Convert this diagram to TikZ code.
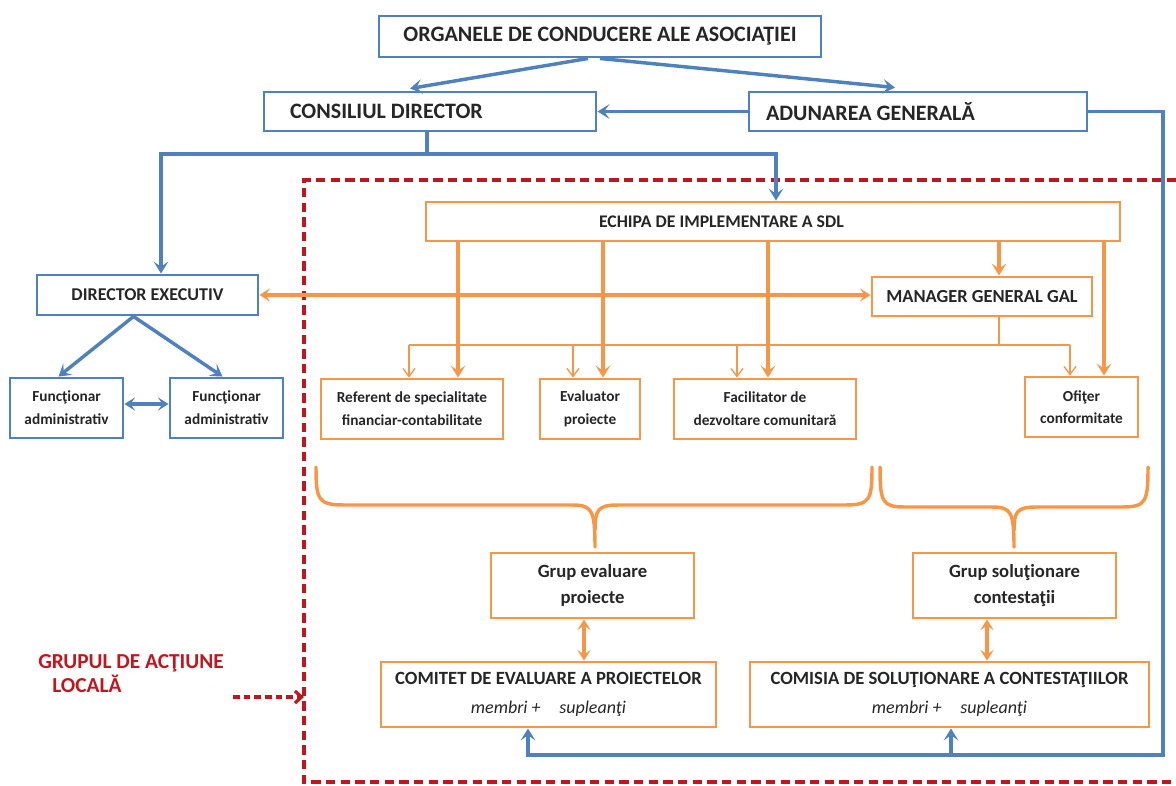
\documentclass[tikz,border=0pt]{standalone}
\usepackage{fontspec}
\setmainfont{Carlito}
\usetikzlibrary{arrows.meta,calc}
\definecolor{cblue}{HTML}{4F81BD}
\definecolor{corange}{HTML}{F79646}
\definecolor{cred}{HTML}{C0161D}
\definecolor{ctext}{HTML}{262626}
\newcommand{\mkbox}[6]{\node[#1, minimum width={(#4-#2)*0.75pt}, minimum height={(#5-#3)*0.75pt}] (#6) at ({(#2+#4)/2},{(#3+#5)/2})}
\newcommand{\fs}[2]{\fontsize{#1}{#2}\selectfont}
\newcommand{\membfont}{\mdseries\itshape\fs{13.5}{22}}
\begin{document}
\begin{tikzpicture}[x=0.75pt,y=-0.75pt,
  bbox/.style={draw=cblue, line width=2.2pt, fill=white, inner sep=0pt, text=ctext, font=\bfseries},
  obox/.style={draw=corange, line width=2.2pt, fill=white, inner sep=0pt, text=ctext, font=\bfseries, align=center},
  bline/.style={draw=cblue, line width=2.6pt},
  barrow/.style={bline, -{Stealth[length=9pt,width=11pt,inset=4pt]}},
  bdouble/.style={bline, {Stealth[length=8pt,width=10pt,inset=3.5pt]}-{Stealth[length=8pt,width=10pt,inset=3.5pt]}},
  oline/.style={draw=corange, line width=2.6pt},
  oarrow/.style={oline, -{Stealth[length=9pt,width=11pt,inset=4pt]}},
  odouble/.style={oline, {Stealth[length=8pt,width=10pt,inset=3.5pt]}-{Stealth[length=8pt,width=10pt,inset=3.5pt]}},
  othin/.style={draw=corange, line width=1pt},
  othinarrow/.style={othin, -{Straight Barb[length=6pt,width=9pt]}},
  reddash/.style={draw=cred, line width=2.6pt, dash pattern=on 7pt off 4pt},
  redlabel/.style={text=cred, font=\bfseries\fs{16}{18}, align=left, inner sep=0pt},
  small/.style={font=\bfseries\fs{11.5}{17}},
  grp/.style={font=\bfseries\fs{14}{19.5}},
  com/.style={font=\bfseries\fs{14}{22}}
]
\useasboundingbox (0,0) rectangle (1176,785);

% frame of the local action group
\coordinate (fr1) at (1176,180);
\coordinate (fr2) at (304,180);
\coordinate (fr3) at (304,782);
\coordinate (fr4) at (1176,782);
\draw[reddash] (fr1) -- (fr2) -- (fr3) -- (fr4);

% blue boxes
\mkbox{bbox, font=\bfseries\fs{16.5}{18}}{379}{16}{821}{57}{org} {ORGANELE DE CONDUCERE ALE ASOCIAŢIEI};
\mkbox{bbox, font=\bfseries\fs{16.5}{18}, text width={280*0.75pt}, align=flush left}{264}{92}{596}{131}{cd} {CONSILIUL DIRECTOR};
\mkbox{bbox, font=\bfseries\fs{16.5}{18}, text width={304*0.75pt}, align=flush left}{749}{92}{1087}{131}{ag} {ADUNAREA GENERALĂ};
\mkbox{bbox, font=\bfseries\fs{13.5}{15}}{37}{275}{258}{315}{de} {DIRECTOR EXECUTIV};
\mkbox{bbox, small, align=center}{10}{378}{123}{438}{f1} {Funcţionar\\administrativ};
\mkbox{bbox, small, align=center}{170}{378}{283}{438}{f2} {Funcţionar\\administrativ};

% orange boxes
\mkbox{obox, font=\bfseries\fs{13.3}{15}, text width={348*0.75pt}, align=flush left}{426}{202}{1120}{241}{ech} {ECHIPA DE IMPLEMENTARE A SDL};
\mkbox{obox, font=\bfseries\fs{13.8}{15}}{872}{277}{1092}{316}{mg} {MANAGER GENERAL GAL};
\mkbox{obox, small}{321}{379}{503}{439}{ref} {Referent de specialitate\\financiar-contabilitate};
\mkbox{obox, small}{540}{379}{640}{439}{ev} {Evaluator\\proiecte};
\mkbox{obox, small}{674}{379}{856}{439}{fac} {Facilitator de\\dezvoltare comunitară};
\mkbox{obox, small}{1025}{377}{1138}{437}{of} {Ofiţer\\conformitate};
\mkbox{obox, grp}{491}{553}{694}{618}{ge} {Grup evaluare\\proiecte};
\mkbox{obox, grp}{913}{553}{1116}{618}{gs} {Grup soluţionare\\contestaţii};
\mkbox{obox, com}{381}{662}{716}{727}{cet} {COMITET DE EVALUARE A PROIECTELOR\\{\membfont membri +\hspace{14pt}supleanţi}};
\mkbox{obox, com}{750}{662}{1149}{727}{cs} {COMISIA DE SOLUŢIONARE A CONTESTAŢIILOR\\{\membfont membri +\hspace{14pt}supleanţi}};

% red label
\node[redlabel, anchor=west] (gal) at (38,674) {GRUPUL DE ACŢIUNE\\\hspace*{10.5pt}LOCALĂ};
\coordinate (gals) at (233,697);
\draw[draw=cred, line width=2.4pt, dash pattern=on 5pt off 3pt, -{Straight Barb[length=5pt,width=9pt]}] (gals) -- (gals -| fr2);

% blue connectors
\draw[barrow] ($(org.south)+(-12,0)$) -- ($(cd.north)+(-20,-2)$);
\draw[barrow] ($(org.south)+(0,0)$) -- ($(ag.north)+(-23,-3)$);
\draw[barrow] (ag.west) -- (cd.east);
\coordinate (jcd) at (427,154);
\coordinate (jl) at (161,154);
\coordinate (jr) at (776,154);
\draw[bline] (cd.south -| jcd) -- (jcd);
\draw[barrow] (jcd) -- (jl) -- (jl |- de.north);
\draw[barrow] (jcd) -- (jr) -- (jr |- ech.north);
\draw[barrow] ($(de.south)+(-14,0)$) -- ($(f1.north)+(-8,0)$);
\draw[barrow] ($(de.south)+(-14,0)$) -- ($(f2.north)+(-4,0)$);
\draw[bdouble] ($(f1.east)+(0,-4)$) -- ($(f2.west)+(0,-4)$);
\coordinate (rb) at (1163,755);
\coordinate (rl) at (528,755);
\coordinate (rm) at (951,755);
\draw[barrow] (ag.east) -| (rb) -- (rl) -- (rl |- cet.south);
\draw[barrow] (rm) -- (rm |- cs.south);

% orange connectors
\draw[odouble] (de.east) -- (de.east -| mg.west);
\coordinate (a1) at (458,0);
\coordinate (a2) at (603,0);
\coordinate (a3) at (768,0);
\coordinate (a4) at (999,0);
\coordinate (a5) at (1104,0);
\coordinate (bus) at (999,345);
\coordinate (b1) at (409,0);
\coordinate (b2) at (573,0);
\coordinate (b3) at (737,0);
\coordinate (b4) at (1070,0);
\draw[othin] (mg.south -| a4) -- (bus);
\draw[othin] (b1 |- bus) -- (b4 |- bus);
\draw[othinarrow] (b1 |- bus) -- (b1 |- ref.north);
\draw[othinarrow] (b2 |- bus) -- (b2 |- ev.north);
\draw[othinarrow] (b3 |- bus) -- (b3 |- fac.north);
\draw[othinarrow] (b4 |- bus) -- (b4 |- of.north);
\draw[oarrow] (ech.south -| a1) -- (ref.north -| a1);
\draw[oarrow] (ech.south -| a2) -- (ev.north -| a2);
\draw[oarrow] (ech.south -| a3) -- (fac.north -| a3);
\draw[oarrow] (ech.south -| a4) -- (mg.north -| a4);
\draw[oarrow] (ech.south -| a5) -- (of.north -| a5);

% braces
\coordinate (br1) at (316,467);
\coordinate (br1t) at (595,547);
\coordinate (br1e) at (872,467);
\draw[oline, line cap=round] (br1) .. controls (316,500) and (318,505) .. (345,505) -- (572,505) .. controls (592,505) and (595,510) .. (br1t);
\draw[oline, line cap=round] (595,530) .. controls (595,510) and (598,505) .. (618,505) -- (845,505) .. controls (870,505) and (872,500) .. (br1e);
\coordinate (br2) at (880,467);
\coordinate (br2t) at (1014,547);
\coordinate (br2e) at (1148,467);
\draw[oline, line cap=round] (br2) .. controls (880,502) and (882,507) .. (905,507) -- (992,507) .. controls (1011,507) and (1014,512) .. (br2t);
\draw[oline, line cap=round] (1014,530) .. controls (1014,512) and (1017,507) .. (1036,507) -- (1122,507) .. controls (1146,507) and (1148,502) .. (br2e);

% double arrows between groups and committees
\coordinate (c1) at (584,0);
\coordinate (c2) at (987,0);
\draw[odouble] (ge.south -| c1) -- (cet.north -| c1);
\draw[odouble] (gs.south -| c2) -- (cs.north -| c2);
\end{tikzpicture}
\end{document}
